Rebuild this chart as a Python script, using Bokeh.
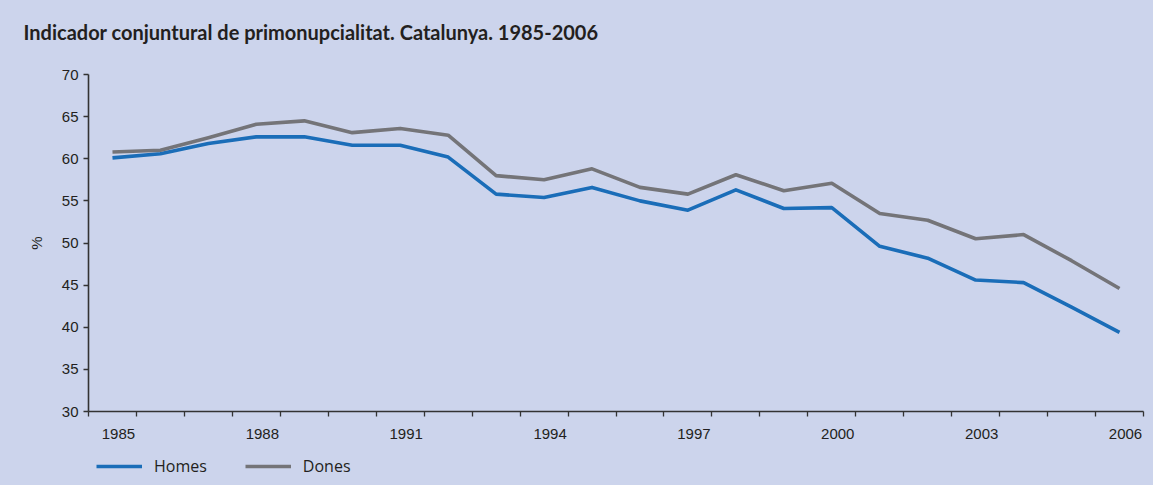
from bokeh.plotting import figure
from bokeh.layouts import column
from bokeh.models import Range1d, FixedTicker, CustomJSTickFormatter, Legend, LegendItem
from bokeh.embed import file_html
from bokeh.resources import INLINE

# ---- data ----
years = list(range(1985, 2007))
homes = [60.1, 60.6, 61.8, 62.6, 62.6, 61.6, 61.6, 60.2, 55.8, 55.4, 56.6, 55.0,
         53.9, 56.3, 54.1, 54.2, 49.6, 48.2, 45.6, 45.3, 42.4, 39.4]
dones = [60.8, 61.0, 62.5, 64.1, 64.5, 63.1, 63.6, 62.8, 58.0, 57.5, 58.8, 56.6,
         55.8, 58.1, 56.2, 57.1, 53.5, 52.7, 50.5, 51.0, 47.9, 44.6]
label_years = [1985, 1988, 1991, 1994, 1997, 2000, 2003, 2006]
y_ticks = [30, 35, 40, 45, 50, 55, 60, 65, 70]
title_text = "Indicador conjuntural de primonupcialitat. Catalunya. 1985-2006"
series_names = ["Homes", "Dones"]

BG = "#ccd4ec"
TXT = "#231f20"
AX = "#333333"
BLUE = "#1a6db8"
GRAY = "#747478"
TICK_FONT = "Liberation Sans"

W = 1153
H_TITLE = 64
H_MAIN = 386
H_LEG = 35


def blank(fig):
    fig.background_fill_color = BG
    fig.border_fill_color = BG
    fig.outline_line_color = None
    fig.grid.visible = False


# ---- title strip ----
tf = figure(width=W, height=H_TITLE, output_backend="svg", toolbar_location=None,
            x_range=Range1d(0, 1), y_range=Range1d(0, 1),
            min_border_left=0, min_border_right=0, min_border_top=44, min_border_bottom=0)
blank(tf)
tf.axis.visible = False
tf.title.text = title_text
tf.title.text_font = "Lato"
tf.title.text_font_size = "20px"
tf.title.text_font_style = "bold"
tf.title.text_color = TXT
tf.title.align = "left"
tf.title.offset = -65
tf.title.standoff = 2

# ---- main chart ----
p = figure(width=W, height=H_MAIN, output_backend="svg", toolbar_location=None,
           x_range=Range1d(years[0] - 0.5, years[-1] + 0.5),
           y_range=Range1d(y_ticks[0], y_ticks[-1]),
           min_border_left=88, min_border_right=10, min_border_top=10, min_border_bottom=39)
blank(p)

# x axis: minor ticks at year boundaries, labels (no tick marks) near year centres
xa = p.xaxis[0]
label_shift = 0.125
xa.ticker = FixedTicker(ticks=[y + label_shift for y in label_years],
                        minor_ticks=[y - 0.5 for y in years] + [years[-1] + 0.5])
xa.formatter = CustomJSTickFormatter(code="return Math.round(tick).toString();")
xa.major_tick_in = 0
xa.major_tick_out = 0
xa.minor_tick_in = 0
xa.minor_tick_out = 5
xa.minor_tick_line_color = AX
xa.minor_tick_line_width = 1.3
xa.axis_line_color = AX
xa.axis_line_width = 1.6
xa.major_label_text_font = TICK_FONT
xa.major_label_text_font_size = "15px"
xa.major_label_text_color = TXT
xa.major_label_standoff = 12

# y axis
ya = p.yaxis[0]
ya.ticker = FixedTicker(ticks=y_ticks)
ya.major_tick_in = 0
ya.major_tick_out = 5
ya.minor_tick_out = 0
ya.minor_tick_in = 0
ya.major_tick_line_color = AX
ya.major_tick_line_width = 1.3
ya.axis_line_color = AX
ya.axis_line_width = 1.6
ya.major_label_text_font = TICK_FONT
ya.major_label_text_font_size = "15px"
ya.major_label_text_color = TXT
ya.major_label_standoff = 5
ya.axis_label = "%"
ya.axis_label_text_font = TICK_FONT
ya.axis_label_text_font_size = "15px"
ya.axis_label_text_font_style = "normal"
ya.axis_label_text_color = TXT
ya.axis_label_standoff = 14

p.line(years, homes, line_color=BLUE, line_width=3.6, line_join="round")
p.line(years, dones, line_color=GRAY, line_width=3.6, line_join="round")

# ---- legend strip ----
lg = figure(width=W, height=H_LEG, output_backend="svg", toolbar_location=None,
            x_range=Range1d(0, 1), y_range=Range1d(0, 1),
            min_border_left=0, min_border_right=0, min_border_top=0, min_border_bottom=0)
blank(lg)
lg.axis.visible = False
lh = lg.line(years, homes, line_color=BLUE, line_width=3.6, visible=False)
ld = lg.line(years, dones, line_color=GRAY, line_width=3.6, visible=False)
legend = Legend(items=[LegendItem(label=series_names[0], renderers=[lh]),
                       LegendItem(label=series_names[1], renderers=[ld])],
                orientation="horizontal", location=(1, 1),
                glyph_width=46, glyph_height=20, label_standoff=12, spacing=38,
                padding=7, margin=0,
                label_text_font="Open Sans", label_text_font_size="16px",
                label_text_color=TXT, inactive_fill_alpha=0,
                background_fill_alpha=0, border_line_alpha=0)
lg.add_layout(legend)

page = column(tf, p, lg, spacing=0)
page.background = BG
open("out.html", "w").write(file_html(page, INLINE))
